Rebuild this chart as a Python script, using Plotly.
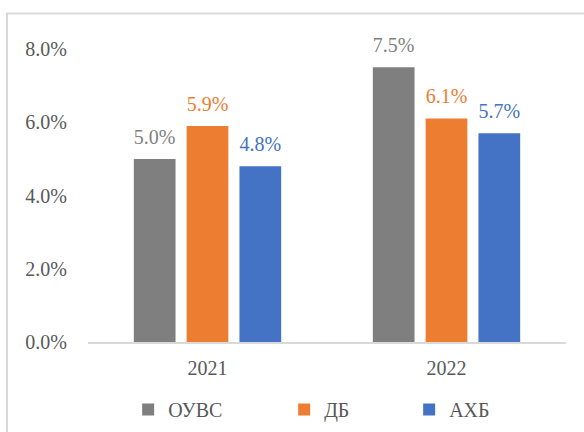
import plotly.graph_objects as go

categories = ["2021", "2022"]
series_names = ["ОУВС", "ДБ", "АХБ"]
ouvs = [0.050, 0.075]
db = [0.059, 0.061]
ahb = [0.048, 0.057]
colors = ["#7F7F7F", "#ED7D31", "#4472C4"]
legend_widths = [111, 80, 60]
y_ticks = [0, 0.02, 0.04, 0.06, 0.08]

FONT = "Liberation Serif"
GAP = 0.337

fig = go.Figure()
for i, (name, vals, col, lw) in enumerate(zip(series_names, [ouvs, db, ahb], colors, legend_widths)):
    fig.add_trace(go.Bar(
        name=name, x=categories, y=vals, offsetgroup=str(i),
        marker=dict(color=col, line=dict(width=0)),
        legendwidth=lw, hoverinfo="skip",
    ))
for i, (name, vals, col) in enumerate(zip(series_names, [ouvs, db, ahb], colors)):
    fig.add_trace(go.Scatter(
        name=name, x=categories, y=vals, offsetgroup=str(i),
        mode="markers+text", texttemplate="%{y:.1%}", textposition="top center",
        marker=dict(size=15, color="rgba(0,0,0,0)"),
        textfont=dict(color=col, size=20, family=FONT),
        cliponaxis=False, showlegend=False, hoverinfo="skip",
    ))

fig.update_layout(
    width=584, height=432,
    margin=dict(l=88, r=18, t=49.4, b=89.7, autoexpand=False),
    paper_bgcolor="white", plot_bgcolor="white",
    barmode="group", bargap=GAP, bargroupgap=0.21,
    scattermode="group", scattergap=GAP,
    font=dict(family=FONT, size=20, color="#595959"),
    showlegend=True,
    legend=dict(orientation="h", x=0.084, xanchor="left", y=-0.23, yanchor="middle",
                font=dict(size=20, color="#595959", family=FONT), traceorder="normal"),
    xaxis=dict(showline=True, linecolor="#D9D9D9", linewidth=1.5, showgrid=False,
               automargin=False, ticks="", ticklabelstandoff=7,
               tickfont=dict(size=20, color="#595959", family=FONT)),
    yaxis=dict(range=[0, 0.08], tickvals=y_ticks, tickformat=".1%", showgrid=False,
               automargin=False, showline=False, zeroline=False, ticks="", ticklabelstandoff=20,
               tickfont=dict(size=20, color="#595959", family=FONT)),
    shapes=[dict(type="rect", xref="paper", yref="paper",
                 x0=-0.1695, x1=1.3, y0=-0.6, y1=1.1209,
                 line=dict(color="#D9D9D9", width=2), fillcolor="rgba(0,0,0,0)", layer="below")],
)

fig.write_html("out.html", config={"displayModeBar": False},
               post_script="document.body.style.margin='0';document.body.style.padding='0';")
